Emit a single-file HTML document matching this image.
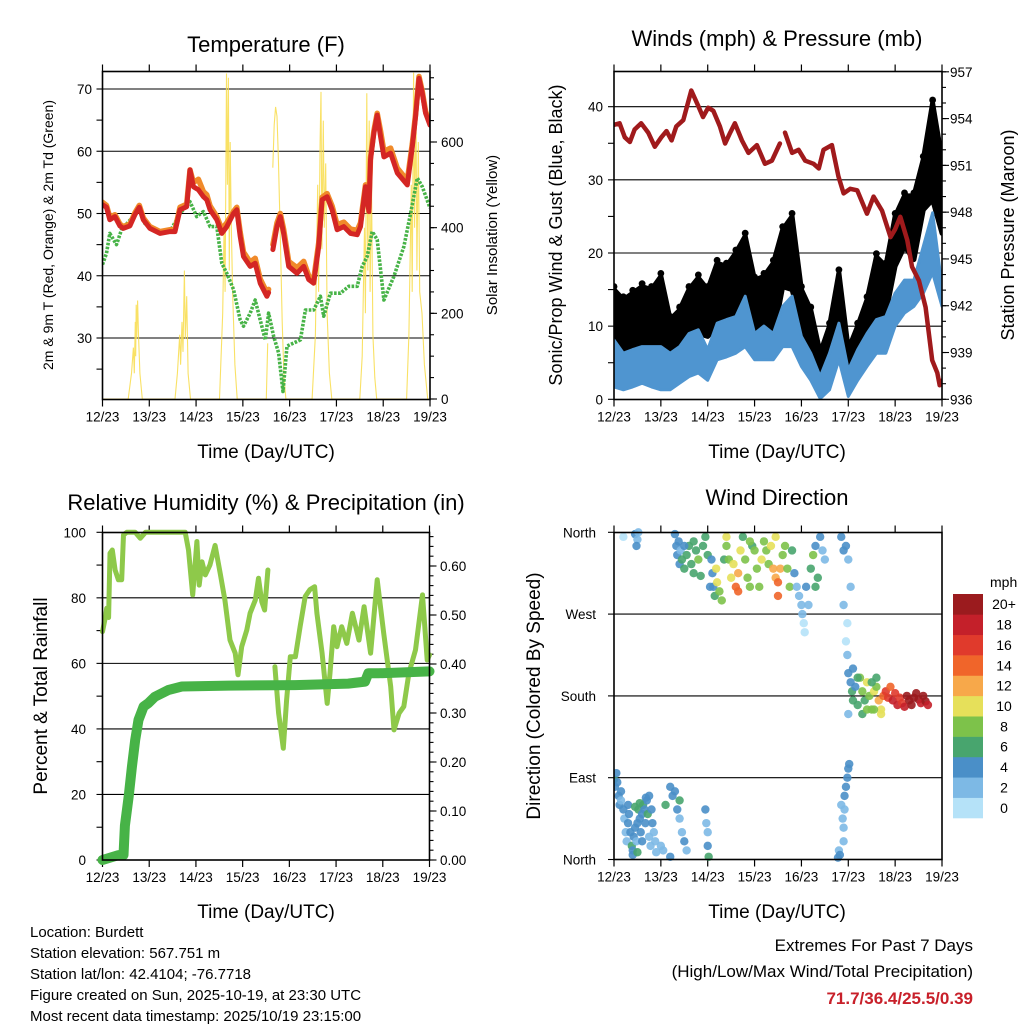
<!DOCTYPE html>
<html><head><meta charset="utf-8">
<style>
html,body{margin:0;padding:0;background:#fff;}
svg{display:block;font-family:"Liberation Sans",Arial,sans-serif;}
</style></head>
<body>
<svg id="fig" width="1024" height="1024" viewBox="0 0 1024 1024">
<g id="p1"></g>
<g id="p2"></g>
<g id="p3"></g>
<g id="p4"></g>
<text x="266" y="52" font-size="22" text-anchor="middle">Temperature (F)</text>
<text x="777" y="46" font-size="22" text-anchor="middle">Winds (mph) &amp; Pressure (mb)</text>
<text x="266" y="510" font-size="22" text-anchor="middle">Relative Humidity (%) &amp; Precipitation (in)</text>
<text x="777" y="505" font-size="22" text-anchor="middle">Wind Direction</text>
<text transform="translate(53,235) rotate(-90)" font-size="14" text-anchor="middle">2m &amp; 9m T (Red, Orange) &amp; 2m Td (Green)</text>
<text transform="translate(497,235) rotate(-90)" font-size="15" text-anchor="middle">Solar Insolation (Yellow)</text>
<text transform="translate(562,235) rotate(-90)" font-size="18" text-anchor="middle">Sonic/Prop Wind &amp; Gust (Blue, Black)</text>
<text transform="translate(1014,235) rotate(-90)" font-size="18" text-anchor="middle">Station Pressure (Maroon)</text>
<text transform="translate(47,696) rotate(-90)" font-size="19" text-anchor="middle">Percent &amp; Total Rainfall</text>
<text transform="translate(540,696) rotate(-90)" font-size="19" text-anchor="middle">Direction (Colored By Speed)</text>
<text x="266" y="458" font-size="19" text-anchor="middle">Time (Day/UTC)</text>
<text x="777" y="458" font-size="19" text-anchor="middle">Time (Day/UTC)</text>
<text x="266" y="918" font-size="19" text-anchor="middle">Time (Day/UTC)</text>
<text x="777" y="918" font-size="19" text-anchor="middle">Time (Day/UTC)</text>
<g font-size="15">
<text x="30" y="937">Location: Burdett</text>
<text x="30" y="958">Station elevation: 567.751 m</text>
<text x="30" y="979">Station lat/lon: 42.4104; -76.7718</text>
<text x="30" y="1000">Figure created on Sun, 2025-10-19, at 23:30 UTC</text>
<text x="30" y="1021">Most recent data timestamp: 2025/10/19 23:15:00</text>
</g>
<text x="973" y="951" font-size="17" text-anchor="end">Extremes For Past 7 Days</text>
<text x="973" y="977" font-size="17" text-anchor="end">(High/Low/Max Wind/Total Precipitation)</text>
<text x="973" y="1004" font-size="17" font-weight="bold" fill="#c8202a" text-anchor="end">71.7/36.4/25.5/0.39</text>
<g id="cbar"></g>
</svg>
<script>
// ---------- data ----------
const dayLabels=["12/23","13/23","14/23","15/23","16/23","17/23","18/23","19/23"];
const tempDays=[0,0.086,0.157,0.264,0.371,0.443,0.586,0.693,0.786,0.871,1.014,1.229,1.443,1.55,1.657,1.8,1.871,1.943,2.05,2.157,2.229,2.3,2.443,2.55,2.657,2.8,2.871,2.943,3.014,3.157,3.264,3.371,3.514,3.55,3.6,
3.643,3.729,3.8,3.871,3.979,4.157,4.3,4.407,4.514,4.621,4.693,4.8,4.907,5.014,5.157,5.3,5.443,5.514,5.621,5.693,5.729,5.8,5.871,5.943,6.014,6.157,6.3,6.514,6.621,6.693,6.764,6.836,6.907,7.0];
const tempRed=[51.4,51,49,49.5,48,47.6,48,49.8,51,49,47.6,46.8,47.1,47.1,50.6,51.1,57,54.3,53.8,52.7,52.2,50.6,49,46.8,47.9,50,50.6,46.3,43.1,41.5,42,38.8,36.7,37.3,null,
44.2,47.9,49.5,46.8,41.5,40.4,41.5,39.4,38.8,44.7,52.2,52.7,50.6,47.4,47.9,46.8,46.6,47.9,54.3,50.3,58.6,62.9,65.8,62.4,59.1,59.7,56.5,54.6,60.7,65.6,71.7,69.3,66.1,64.2];
const tempOrange=[51.8,51.3,49.4,49.8,48.3,47.9,48.3,50.1,51.3,49.3,47.9,47.1,47.4,47.4,51,51.5,57,55,55.5,53.5,53,51.2,49.5,47.5,48.5,50.3,51,47,43.8,42.2,42.8,39.5,37.3,37.8,null,
45,48.5,50,47.5,42.3,41.3,42.3,40,39.4,45.3,52.6,53.2,51.2,48.2,48.6,47.5,47.3,48.5,54.6,50.8,59,63.3,66.1,63.3,60,60.5,57.3,55.3,61.2,66,72,69.6,66.4,64.5];
const dewDays=[0,0.086,0.157,0.3,0.407,0.657,0.786,0.907,1.157,1.443,1.657,1.871,2.014,2.157,2.3,2.443,2.55,2.657,2.8,2.943,3.014,3.157,3.264,3.371,3.479,3.55,3.657,3.764,3.857,3.943,4.086,4.229,4.336,4.514,4.657,4.729,4.871,5.086,5.264,5.443,5.55,5.657,5.764,5.871,6.014,6.229,6.443,6.586,6.729,6.836,7.0];
const dewVals=[41.8,43.6,46.8,45,47.4,49.5,50.9,48.4,47.1,47.1,50,51.9,49.5,50.3,47.9,47.9,42,40.4,37.8,32.9,31.9,34,36.1,32.9,29.7,34,30.3,27.6,21.4,28.7,29.2,29.7,34.5,34.5,36.7,33.5,37.2,37.2,38.3,38.3,41.5,43.1,47.1,45.8,36.1,39.9,44.7,50,55.7,54.3,50.9];
const solarDays=[0,0.55,0.62,0.66,0.68,0.7,0.71,0.72,0.73,0.75,0.77,0.8,0.85,1.55,1.6,1.65,1.67,1.7,1.72,1.75,1.77,1.8,1.83,1.88,2.5,2.57,2.6,2.62,2.65,2.67,2.69,2.71,2.73,2.75,2.78,2.83,2.88,3.5,3.53,3.56,3.64,3.67,3.7,3.73,3.76,3.8,3.84,3.88,3.92,4.48,4.55,4.6,4.62,4.65,4.67,4.69,4.72,4.74,4.77,4.8,4.85,4.9,5.5,5.55,5.6,5.62,5.65,5.67,5.7,5.72,5.75,5.78,5.82,5.86,6.5,6.55,6.6,6.62,6.65,6.67,6.7,6.72,6.75,6.78,6.83,6.88,6.95,7];
const solarVals=[0,0,60,120,60,180,100,220,140,230,150,60,0,0,60,150,80,180,110,300,140,240,60,0,0,200,400,250,760,500,750,300,600,420,250,80,0,0,130,null,540,640,682,660,560,380,180,50,0,0,150,500,250,600,717,350,650,400,550,200,60,0,0,100,400,200,714,300,650,250,500,150,50,0,0,150,500,250,762,400,700,300,600,250,200,80,0,0];
const windDays=[0,0.2,0.4,0.6,0.8,1,1.2,1.4,1.6,1.8,2,2.2,2.4,2.6,2.8,3,3.2,3.4,3.6,3.8,4,4.2,4.4,4.6,4.8,5,5.2,5.4,5.6,5.8,6,6.2,6.4,6.6,6.8,7];
const gustHi=[15,13.6,14.5,15.4,15,16.8,10.9,12.2,15,16.6,15,18.6,18.2,20,22.3,16.3,16.8,18.6,23.2,25,15,12.2,6.3,10,17.3,6.8,10,13.6,19.5,18.2,25,27.8,27.8,32.8,40.5,32.8];
const gustLo=[5.4,6.8,6.3,6.3,7.2,6.8,5.4,6.8,8.1,9,8.6,10,10.4,10.9,13.6,9,10,8.6,15.4,15,10,6.3,2.6,4,10,3.1,4.5,8.1,10.9,11.8,18.2,20.9,19.1,25.9,27.3,22.7];
const windHi=[8.1,6.3,6.8,7.2,7.2,7.2,6.3,7.2,9,9.5,6.8,10.4,10.9,11.3,14.1,9,10,9,12.7,14.1,8.6,6.3,3.1,6.3,10.4,4,6.8,9,10.9,11.3,14.5,16.3,16.3,20.9,25.5,15.4];
const windLo=[1.7,1.3,1.7,2.2,1.7,1.3,1.3,2.2,3.1,3.6,2.6,5.4,5.8,6.3,7.2,5.4,5.4,5.4,7.2,7.2,4.5,2.6,0.1,1.3,5.4,0.4,2.6,4.5,6.3,6.3,10,11.8,12.7,14.5,17.3,12.7];
const presDays=[0,0.12,0.23,0.34,0.44,0.58,0.73,0.87,1.01,1.12,1.23,1.33,1.48,1.65,1.8,1.9,2.01,2.12,2.26,2.37,2.48,2.58,2.73,2.87,3.05,3.22,3.37,3.54,3.58,3.65,3.8,3.94,4.08,4.26,4.37,4.47,4.65,4.79,4.9,5.04,5.19,5.4,5.54,5.72,5.9,6.0,6.11,6.26,6.36,6.51,6.65,6.79,6.9,6.95,7.0];
const presVals=[953.6,953.7,952.8,952.5,953.3,953.7,953.1,952.2,952.8,953.2,952.6,953.5,953.9,955.8,954.8,954.1,954.7,954.5,953.5,952.4,953.1,953.7,952.6,951.8,952.3,951.1,951.3,952.4,null,953.1,951.8,952,951.3,951.1,950.8,952,952.3,950.3,949.2,949.5,949.4,947.9,949,948.1,946.4,946.9,947.7,946.2,944.5,943.6,941.9,938.5,937.7,936.9,937.2];
const rhDays=[0,0.06,0.09,0.13,0.16,0.21,0.27,0.34,0.41,0.45,0.52,0.7,0.81,0.92,1.06,1.77,1.84,1.93,2.02,2.07,2.13,2.2,2.3,2.41,2.52,2.62,2.73,2.84,2.9,2.98,3.09,3.16,3.27,3.34,3.41,3.47,3.54,3.61,3.69,3.77,3.87,3.94,4.02,4.13,4.23,4.34,4.44,4.54,4.59,4.7,4.81,4.87,4.95,5.02,5.12,5.23,5.35,5.49,5.6,5.74,5.88,6.02,6.17,6.24,6.35,6.45,6.56];
const rhVals=[69.7,74,76.8,74,93.6,94.6,88.5,85.5,85.5,99.2,100,100,98.2,100,100,100,94.6,80.9,97.2,83.9,91,87,90,96,87.5,79.3,67.1,63.1,56.5,65.1,70.2,75.3,79.3,86,78.8,76.3,88.5,null,59,44.8,34.1,48.8,62,62,71.2,80.4,82.5,83.4,75.3,63.1,47.8,57,71.2,65.1,71.2,66.1,75.3,67.1,77.3,63.1,85.5,69.2,52.9,39.7,44.8,46.8,57];
const rhTailDays=[6.56,6.7,6.85,6.95,7.0];
const rhTail=[57,64.1,80.9,61,62.6];
const precipDays=[0,0.34,0.45,0.48,0.56,0.63,0.7,0.77,0.88,0.98,1.12,1.41,1.7,2.7,4.12,5.26,5.62,5.69,5.91,7.0];
const precipVals=[0,0.01,0.01,0.07,0.13,0.19,0.245,0.286,0.313,0.32,0.333,0.347,0.354,0.356,0.357,0.36,0.364,0.381,0.381,0.385];
const dirDays=[0,0.02,0.05,0.07,0.1,0.12,0.15,0.2,0.22,0.25,0.27,0.3,0.32,0.35,0.38,0.4,0.42,0.45,0.48,0.5,0.52,0.55,0.57,0.6,0.62,0.65,0.67,0.7,0.72,0.75,0.78,0.8,0.82,0.85,0.88,0.9,1.0,1.05,1.2,0.15,0.3,0.45,0.55,0.68,0.75,0.6,0.4,0.5,
0.2,0.45,0.5,0.48,0.52,
1.3,1.33,1.35,1.38,1.4,1.42,1.45,1.5,1.55,1.6,1.65,1.7,1.75,1.8,1.85,1.9,1.95,2.0,2.05,2.08,1.5,1.7,
2.1,2.12,2.15,2.18,2.2,2.25,2.3,2.35,2.4,2.45,2.5,2.55,2.6,2.65,2.7,2.75,2.8,2.85,2.9,2.95,3.0,3.05,3.1,3.15,3.2,3.25,3.3,3.35,3.4,3.45,3.5,3.55,3.6,3.65,3.7,3.75,3.8,3.85,3.9,3.95,4.0,4.02,4.05,4.07,4.1,4.15,4.2,4.25,4.3,4.35,4.4,4.45,4.5,4.3,2.4,2.9,3.45,3.5,2.65,
4.9,4.95,4.98,5.0,5.05,5.08,5.1,5.15,5.2,5.25,5.3,5.35,5.4,5.45,5.5,5.55,5.6,5.65,5.7,5.75,5.8,5.85,5.9,5.95,6.0,6.05,6.1,6.15,6.2,6.25,6.3,6.35,6.4,6.45,6.5,6.55,6.6,6.65,6.7,5.1,5.0,5.2,5.3,5.5,5.55,5.6,5.7,5.4,4.98,
4.8,4.85,4.88,4.9,4.92,4.95,4.98,5.0,5.02,4.9,4.78,4.82,4.92,
4.85,4.95,5.0,5.05,4.9,
1.3,1.35,1.4,1.45,1.5,1.55,1.4,1.2,1.25,1.1,
1.95,1.97,2.0,2.0,2.02];
const dirDeg=[88,80,95,85,70,60,65,55,45,30,20,40,50,30,15,10,25,35,20,40,55,45,30,50,60,55,40,65,50,25,15,55,40,30,20,8,15,10,3,75,60,58,62,68,70,20,5,8,
355,358,352,345,360,
358,345,335,350,325,340,330,320,335,345,325,315,340,330,312,345,355,335,300,330,345,350,
315,300,290,320,305,295,285,330,345,330,310,325,300,315,340,355,330,310,300,345,340,320,300,330,350,340,325,345,320,310,305,320,335,345,320,300,340,315,300,290,280,270,260,250,300,280,320,335,345,310,355,340,330,300,355,350,355,290,295,
280,240,225,205,195,185,175,190,170,200,185,175,195,180,165,185,190,175,165,180,185,178,190,175,183,170,178,172,168,180,175,170,178,183,176,172,180,174,170,210,160,200,160,195,165,200,160,165,260,
10,60,45,35,55,80,90,100,105,20,2,5,70,
355,345,330,300,340,
75,55,45,30,20,10,65,80,70,60,
55,40,30,15,3];
const dirSpd=[6,4,4,4,4,4,2,4,2,2,2,4,4,4,6,4,4,4,2,4,6,4,4,4,6,4,4,4,6,2,2,4,4,2,2,2,2,2,4,4,4,6,6,4,4,4,4,6,
0,4,2,4,2,
4,4,4,4,4,2,6,6,6,6,6,6,6,8,6,6,6,6,4,4,4,6,
4,4,6,10,10,8,8,6,8,8,10,10,14,12,10,6,8,8,8,6,8,8,8,10,8,8,8,10,12,12,14,12,8,8,8,8,6,4,2,2,2,2,0,0,4,2,6,8,4,6,4,2,2,6,10,8,10,14,14,
2,0,2,4,4,6,6,4,6,8,8,6,10,8,8,10,8,12,10,14,16,16,14,18,16,18,16,16,18,20,20,20,20,20,20,18,20,20,18,4,2,6,6,6,8,6,10,8,0,
2,2,2,2,2,4,4,4,4,2,4,4,4,
4,4,2,2,4,
4,4,2,2,4,2,6,4,4,6,
4,2,2,4,6];
const cbarLabels=["0","2","4","6","8","10","12","14","16","18","20+"];
const cbarColors=["#b5e2f8","#7db9e5","#4a8fc8","#48a56e","#7dc24a","#e6e05a","#f7a84a","#f0652a","#e03a2c","#c4202a","#9b1b1e"];

// ---------- helpers ----------
const NS="http://www.w3.org/2000/svg";
function mk(parent,tag,attrs){const e=document.createElementNS(NS,tag);for(const k in attrs)e.setAttribute(k,attrs[k]);parent.appendChild(e);return e;}
function lin(d0,d1,r0,r1){return v=>r0+(v-d0)*(r1-r0)/(d1-d0);}
function pathFrom(xs,ys,sx,sy){let d="",pen=false;for(let i=0;i<xs.length;i++){if(ys[i]===null||ys[i]===undefined){pen=false;continue;}d+=(pen?"L":"M")+sx(xs[i]).toFixed(1)+" "+sy(ys[i]).toFixed(1);pen=true;}return d;}
function speedColor(s){let i=Math.min(10,Math.floor(s/2));return cbarColors[i];}

function frame(g,L,T,R,B,sx){
  for(let i=0;i<dayLabels.length;i++){
    const x=sx(i);
    const t1=mk(g,"line",{x1:x,y1:B,x2:x,y2:B+7,stroke:"#000","stroke-width":1.2});
    
    
    const t2=mk(g,"line",{x1:x,y1:T,x2:x,y2:T-7,stroke:"#000","stroke-width":1.2});
    
    
    const tx=mk(g,"text",{x:x,y:B+22,"font-size":13.5,"text-anchor":"middle"});
    tx.textContent=dayLabels[i];
    
    
  }
}
function border(g,L,T,R,B){
  const r=mk(g,"rect",{x:L,y:T,width:R-L,height:B-T,fill:"none",stroke:"#000","stroke-width":1.6});
  
  
}
function grid(g,L,R,y){
  const l=mk(g,"line",{x1:L,y1:y,x2:R,y2:y,stroke:"#000","stroke-width":1.1});
  
  
}
function yTicks(g,vals,sy,xEdge,dir,len){
  for(const v of vals){
    const y=sy(v);
    const t=mk(g,"line",{x1:xEdge,y1:y,x2:xEdge+dir*len,y2:y,stroke:"#000","stroke-width":1.1});
    
    
  }
}
function range(a,b,s){const r=[];for(let v=a;v<=b+1e-9;v+=s)r.push(Math.round(v*1000)/1000);return r;}
function label(g,x,y,txt,anchor,name){const tx=mk(g,"text",{x:x,y:y,"font-size":13.5,"text-anchor":anchor});tx.textContent=txt;}

// ---------- Panel 1 ----------
(function(){
  const g=document.getElementById("p1");
  const L=102.5,R=430,T=71.5,B=399.5;
  const sx=lin(0,7,L,R), sy=lin(70,30,89,338), sr=lin(0,600,399,142);
  frame(g,L,T,R,B,sx);
  for(const v of [70,60,50,40,30])grid(g,L,R,sy(v));
  yTicks(g,range(25,70,5),sy,L,-1,6);
  for(const v of [30,40,50,60,70])label(g,92,sy(v)+5,String(v),"end",'y-tick-label');
  yTicks(g,range(0,750,50),sr,R,1,4);
  yTicks(g,[0,200,400,600],sr,R,1,7);
  for(const v of [0,200,400,600])label(g,441,sr(v)+5,String(v),"start",'solar-tick-label');
  const clip=mk(g,"clipPath",{id:"c1"});mk(clip,"rect",{x:L,y:T,width:R-L,height:B-T});
  const pg=mk(g,"g",{"clip-path":"url(#c1)"});
  const s=mk(pg,"path",{d:pathFrom(solarDays,solarVals,sx,sr),fill:"none",stroke:"#f8dc4a","stroke-width":1.1,opacity:0.85});
  
  
  const dw=mk(pg,"path",{d:pathFrom(dewDays,dewVals,sx,sy),fill:"none",stroke:"#47b347","stroke-width":3.6,"stroke-dasharray":"2.6 1.4","stroke-linejoin":"round"});
  
  
  const o=mk(pg,"path",{d:pathFrom(tempDays,tempOrange,sx,sy),fill:"none",stroke:"#f08a2a","stroke-width":5.5,"stroke-linejoin":"round","stroke-linecap":"round"});
  
  
  const r=mk(pg,"path",{d:pathFrom(tempDays,tempRed,sx,sy),fill:"none",stroke:"#d42624","stroke-width":5,"stroke-linejoin":"round","stroke-linecap":"round"});
  
  
  border(g,L,T,R,B);
})();

// ---------- Panel 2 ----------
(function(){
  const g=document.getElementById("p2");
  const L=614,R=942,T=71.5,B=399.5;
  const sx=lin(0,7,L,R), sy=lin(0,40,399.3,106.7), sp=lin(936,957,399.3,71.8);
  frame(g,L,T,R,B,sx);
  for(const v of [10,20,30,40])grid(g,L,R,sy(v));
  yTicks(g,range(0,40,5),sy,L,-1,6);
  for(const v of [0,10,20,30,40])label(g,603,sy(v)+5,String(v),"end",'wind-tick-label');
  yTicks(g,range(936,957,1),sp,R,1,4);
  yTicks(g,range(936,957,3),sp,R,1,7);
  for(const v of range(936,957,3))label(g,950,sp(v)+5,String(v),"start",'pressure-tick-label');
  const clip=mk(g,"clipPath",{id:"c2"});mk(clip,"rect",{x:L,y:T,width:R-L,height:B-T});
  const pg=mk(g,"g",{"clip-path":"url(#c2)"});
  let d="";for(let i=0;i<windDays.length;i++)d+=(i?"L":"M")+sx(windDays[i]).toFixed(1)+" "+sy(gustHi[i]).toFixed(1);
  for(let i=windDays.length-1;i>=0;i--)d+="L"+sx(windDays[i]).toFixed(1)+" "+sy(gustLo[i]).toFixed(1);
  const gb=mk(pg,"path",{d:d+"Z",fill:"#000",stroke:"#000","stroke-width":5,"stroke-linejoin":"round"});
  
  
  for(let i=0;i<windDays.length;i++){
    const c=mk(pg,"circle",{cx:sx(windDays[i]),cy:sy(gustHi[i])-3,r:3.4,fill:"#000"});
    
    
  }
  let d2="";for(let i=0;i<windDays.length;i++)d2+=(i?"L":"M")+sx(windDays[i]).toFixed(1)+" "+sy(windHi[i]).toFixed(1);
  for(let i=windDays.length-1;i>=0;i--)d2+="L"+sx(windDays[i]).toFixed(1)+" "+sy(windLo[i]).toFixed(1);
  const wb=mk(pg,"path",{d:d2+"Z",fill:"#4f95d0",stroke:"#4f95d0","stroke-width":3,"stroke-linejoin":"round"});
  
  
  const p=mk(pg,"path",{d:pathFrom(presDays,presVals,sx,sp),fill:"none",stroke:"#a01a1c","stroke-width":4.5,"stroke-linejoin":"round","stroke-linecap":"round"});
  
  
  border(g,L,T,R,B);
})();

// ---------- Panel 3 ----------
(function(){
  const g=document.getElementById("p3");
  const L=102.5,R=429.5,T=532.5,B=860;
  const sx=lin(0,7,L,R), sy=lin(0,100,860,532.3), sp=lin(0,0.6,860,566);
  frame(g,L,T,R,B,sx);
  for(const v of [20,40,60,80])grid(g,L,R,sy(v));
  yTicks(g,range(0,100,10),sy,L,-1,6);
  for(const v of [0,20,40,60,80,100])label(g,86,sy(v)+5,String(v),"end",'rh-tick-label');
  yTicks(g,range(0,0.66,0.02),sp,R,1,4);
  yTicks(g,range(0,0.6,0.1),sp,R,1,7);
  for(const v of range(0,0.6,0.1))label(g,440,sp(v)+5,v.toFixed(2),"start",'precip-tick-label');
  const rh=mk(g,"path",{d:pathFrom(rhDays,rhVals,sx,sy)+pathFrom(rhTailDays,rhTail,sx,sy).replace("M","L"),fill:"none",stroke:"#8ec94a","stroke-width":5,"stroke-linejoin":"round","stroke-linecap":"round"});
  
  
  const pr=mk(g,"path",{d:pathFrom(precipDays,precipVals,sx,sp),fill:"none",stroke:"#47b347","stroke-width":10,"stroke-linejoin":"round","stroke-linecap":"round"});
  
  
  border(g,L,T,R,B);
})();

// ---------- Panel 4 ----------
(function(){
  const g=document.getElementById("p4");
  const L=614,R=942,T=532.5,B=859.5;
  const sx=lin(0,7,L,R), sy=lin(0,360,859.5,532.3);
  frame(g,L,T,R,B,sx);
  for(const v of [90,180,270])grid(g,L,R,sy(v));
  const names=["North","East","South","West","North"];
  yTicks(g,[0,90,180,270,360],sy,L,-1,6);
  [0,90,180,270,360].forEach((v,i)=>label(g,596,sy(v)+5,names[i],"end",'direction-tick-label'));
  const clip=mk(g,"clipPath",{id:"c4"});mk(clip,"rect",{x:L,y:T-5,width:R-L+5,height:B-T+10});
  const pg=mk(g,"g",{"clip-path":"url(#c4)"});
  for(let i=0;i<dirDays.length;i++){
    const c=mk(pg,"circle",{cx:sx(dirDays[i]),cy:sy(dirDeg[i]),r:4.2,fill:speedColor(dirSpd[i]),opacity:0.9});
    
    
  }
  border(g,L,T,R,B);
  const cb=document.getElementById("cbar");
  const t=mk(cb,"text",{x:990,y:587,"font-size":14});t.textContent="mph";
  
  
  const h=224/cbarColors.length;
  for(let i=0;i<cbarColors.length;i++){
    const y=818-(i+1)*h;
    const r=mk(cb,"rect",{x:953,y:y,width:30,height:h+0.3,fill:cbarColors[i]});
    
    
    const tx=mk(cb,"text",{x:1004,y:y+h/2+5,"font-size":14,"text-anchor":"middle"});
    tx.textContent=cbarLabels[i];
    
    
  }
})();
</script>
</body></html>
